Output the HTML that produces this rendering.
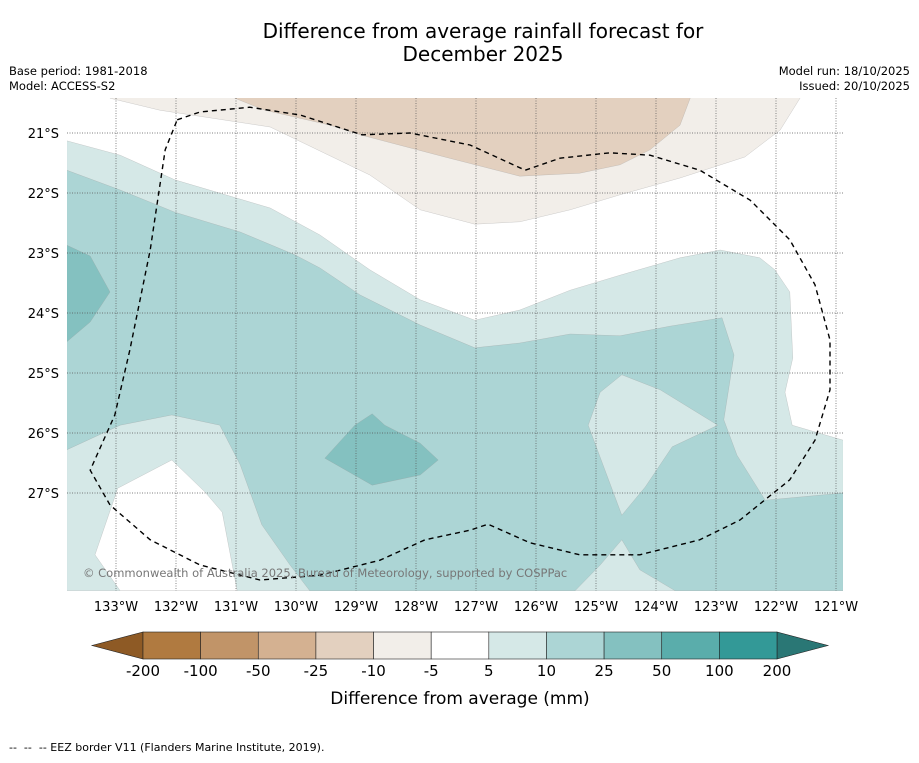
<!DOCTYPE html>
<html><head><meta charset="utf-8"><style>
body{margin:0;background:#fff;}
svg text{font-family:"DejaVu Sans","Liberation Sans",sans-serif;}
</style></head><body>
<svg id="c" width="919" height="758" xmlns="http://www.w3.org/2000/svg">
<rect width="919" height="758" fill="#fff"/>
<text x="483" y="38" font-size="20" text-anchor="middle">Difference from average rainfall forecast for</text>
<text x="483" y="61" font-size="20" text-anchor="middle">December 2025</text>
<text x="9" y="75" font-size="11.5">Base period: 1981-2018</text>
<text x="9" y="90" font-size="11.5">Model: ACCESS-S2</text>
<text x="910" y="75" font-size="11.5" text-anchor="end">Model run: 18/10/2025</text>
<text x="910" y="90" font-size="11.5" text-anchor="end">Issued: 20/10/2025</text>
<defs><clipPath id="mapclip"><rect x="67" y="98" width="776" height="493"/></clipPath></defs>
<g id="map" clip-path="url(#mapclip)"></g>
<g id="axes"></g>
<g id="cbar"></g>
<text x="460" y="704" font-size="17" text-anchor="middle">Difference from average (mm)</text>
<text x="9" y="751" font-size="11" xml:space="preserve">--  --  -- EEZ border V11 (Flanders Marine Institute, 2019).</text>
</svg>
<script>
// lon (°W), lat (°S)
const lightBrown=[[133.1,20.42],[132.27,20.62],[130.43,20.9],[128.77,21.7],[127.93,22.28],[127.02,22.52],[126.27,22.48],[125.43,22.28],[124.6,22.03],[123.6,21.75],[122.52,21.4],[121.93,20.95],[121.6,20.42],[121.6,20.3],[133.1,20.3]];
const tan=[[131.02,20.42],[130.52,20.62],[129.43,20.87],[128.93,21.03],[127.52,21.4],[126.27,21.72],[125.27,21.67],[124.6,21.53],[124.1,21.28],[123.6,20.87],[123.43,20.42],[123.43,20.3],[131.02,20.3]];
const teal5=[[133.82,21.13],[132.93,21.37],[132.02,21.78],[130.43,22.25],[129.6,22.7],[128.77,23.28],[127.93,23.78],[127.02,24.12],[126.27,23.95],[125.43,23.62],[124.6,23.37],[123.6,23.08],[122.93,22.95],[122.27,23.08],[122.02,23.28],[121.77,23.65],[121.72,24.75],[121.85,25.32],[121.73,25.87],[120.88,26.12],[120.88,28.63],[133.82,28.63]];
const teal10=[[133.82,21.62],[132.93,21.95],[132.02,22.32],[130.93,22.65],[130.02,23.03],[129.6,23.25],[128.93,23.7],[127.93,24.2],[127.02,24.58],[126.27,24.5],[125.43,24.35],[124.6,24.38],[123.77,24.22],[122.9,24.08],[122.7,24.7],[122.87,25.78],[122.65,26.37],[122.18,27.12],[120.88,27.0],[120.88,28.63],[123.68,28.63],[124.27,28.28],[124.57,27.78],[124.93,28.2],[125.35,28.63],[129.77,28.63],[130.1,28.2],[130.57,27.53],[130.93,26.53],[131.27,25.87],[132.07,25.7],[132.93,25.87],[133.82,26.28]];
const lightPatch=[[124.57,25.03],[123.93,25.28],[122.97,25.87],[123.73,26.23],[124.18,26.9],[124.57,27.37],[124.85,26.62],[125.13,25.87],[124.93,25.32]];
const teal25a=[[133.82,22.87],[133.43,23.05],[133.1,23.65],[133.43,24.15],[133.82,24.48]];
const teal25b=[[129.52,26.42],[129.02,25.87],[128.73,25.68],[128.52,25.87],[127.93,26.17],[127.63,26.45],[127.93,26.7],[128.73,26.87]];
const whiteBL=[[133.35,28.03],[132.97,26.92],[132.07,26.45],[131.52,26.98],[131.23,27.32],[130.98,28.63],[132.93,28.63]];
const eez=[[131.98,20.78],[131.6,20.65],[130.77,20.57],[129.93,20.7],[128.9,21.03],[128.1,21.0],[127.1,21.2],[126.18,21.62],[125.6,21.42],[124.77,21.33],[124.1,21.37],[123.27,21.62],[122.43,22.12],[121.77,22.78],[121.35,23.53],[121.1,24.45],[121.1,25.28],[121.35,26.12],[121.77,26.78],[122.6,27.45],[123.27,27.78],[124.27,28.03],[125.27,28.03],[126.1,27.83],[126.8,27.52],[127.1,27.62],[127.85,27.78],[128.6,28.12],[129.6,28.37],[130.6,28.45],[131.6,28.2],[132.43,27.78],[133.1,27.2],[133.43,26.62],[133.02,25.7],[132.77,24.62],[132.43,22.95],[132.18,21.28],[131.98,20.78]];
const lonTicks=[133,132,131,130,129,128,127,126,125,124,123,122,121];
const latTicks=[21,22,23,24,25,26,27];
const cbLabels=["-200","-100","-50","-25","-10","-5","5","10","25","50","100","200"];
const cbColors=["#b07a40","#c19468","#d4b191","#e3d0bf","#f2eee9","#ffffff","#d5e8e7","#acd5d5","#84c1c0","#5aadab","#339997"];

const NS="http://www.w3.org/2000/svg";
const X=lon=>116+(133-lon)*60;
const Y=lat=>133+(lat-21)*60;
const pts=a=>a.map(p=>X(p[0]).toFixed(1)+","+Y(p[1]).toFixed(1)).join(" ");
const map=document.getElementById('map');
function poly(arr,fill,name){
  const p=document.createElementNS(NS,'polygon');
  p.setAttribute('points',pts(arr));p.setAttribute('fill',fill);
  p.setAttribute('stroke','#999');p.setAttribute('stroke-width','0.4');p.setAttribute('stroke-opacity','0.6');
  
  
  map.appendChild(p);
}
poly(lightBrown,"#f2eee9","contour-minus10-minus5");
poly(tan,"#e3d0bf","contour-minus25-minus10");
poly(teal5,"#d5e8e7","contour-5-10");
poly(teal10,"#acd5d5","contour-10-25");
poly(lightPatch,"#d5e8e7","contour-5-10-patch");
poly(teal25a,"#84c1c0","contour-25-50-west");
poly(teal25b,"#84c1c0","contour-25-50-central");
poly(whiteBL,"#ffffff","contour-neutral-southwest");
for(const lo of lonTicks){
  const l=document.createElementNS(NS,'line');
  l.setAttribute('x1',X(lo));l.setAttribute('x2',X(lo));l.setAttribute('y1',98);l.setAttribute('y2',591);
  l.setAttribute('stroke','#555');l.setAttribute('stroke-width','0.7');l.setAttribute('stroke-dasharray','1,1.5');
  
  
  map.appendChild(l);
}
for(const la of latTicks){
  const l=document.createElementNS(NS,'line');
  l.setAttribute('y1',Y(la));l.setAttribute('y2',Y(la));l.setAttribute('x1',67);l.setAttribute('x2',843);
  l.setAttribute('stroke','#555');l.setAttribute('stroke-width','0.7');l.setAttribute('stroke-dasharray','1,1.5');
  
  
  map.appendChild(l);
}
const e=document.createElementNS(NS,'polyline');
e.setAttribute('points',pts(eez));e.setAttribute('fill','none');e.setAttribute('stroke','#000');
e.setAttribute('stroke-width','1.4');e.setAttribute('stroke-dasharray','5,4');e.setAttribute('stroke-linejoin','round');


map.appendChild(e);
const cp=document.createElementNS(NS,'text');
cp.setAttribute('x',83);cp.setAttribute('y',577);cp.setAttribute('font-size','11.5');cp.setAttribute('fill','#777');
cp.textContent='© Commonwealth of Australia 2025, Bureau of Meteorology, supported by COSPPac';


map.appendChild(cp);
const axes=document.getElementById('axes');
for(const lo of lonTicks){
  const t=document.createElementNS(NS,'text');
  t.setAttribute('x',X(lo));t.setAttribute('y',611);t.setAttribute('font-size','13');t.setAttribute('text-anchor','middle');
  t.textContent=lo+'°W';
  
  
  axes.appendChild(t);
}
for(const la of latTicks){
  const t=document.createElementNS(NS,'text');
  t.setAttribute('x',59);t.setAttribute('y',Y(la)+5);t.setAttribute('font-size','13');t.setAttribute('text-anchor','end');
  t.textContent=la+'°S';
  
  
  axes.appendChild(t);
}
const cb=document.getElementById('cbar');
const cx0=143,cw=(777-143)/cbColors.length,cy=632,ch=27;
const lt=document.createElementNS(NS,'polygon');
lt.setAttribute('points',`${cx0},${cy} ${cx0},${cy+ch} 92,${cy+ch/2}`);lt.setAttribute('fill','#8e5a25');lt.setAttribute('stroke','#222');lt.setAttribute('stroke-width','0.6');


cb.appendChild(lt);
const rt=document.createElementNS(NS,'polygon');
rt.setAttribute('points',`777,${cy} 777,${cy+ch} 828,${cy+ch/2}`);rt.setAttribute('fill','#2a7775');rt.setAttribute('stroke','#222');rt.setAttribute('stroke-width','0.6');


cb.appendChild(rt);
cbColors.forEach((c,i)=>{
  const r=document.createElementNS(NS,'rect');
  r.setAttribute('x',cx0+i*cw);r.setAttribute('y',cy);r.setAttribute('width',cw);r.setAttribute('height',ch);
  r.setAttribute('fill',c);r.setAttribute('stroke','#222');r.setAttribute('stroke-width','0.6');
  
  
  cb.appendChild(r);
});
cbLabels.forEach((s,i)=>{
  const t=document.createElementNS(NS,'text');
  t.setAttribute('x',cx0+i*cw);t.setAttribute('y',676);t.setAttribute('font-size','15');t.setAttribute('text-anchor','middle');
  t.textContent=s;
  
  
  cb.appendChild(t);
});
</script>
</body></html>
